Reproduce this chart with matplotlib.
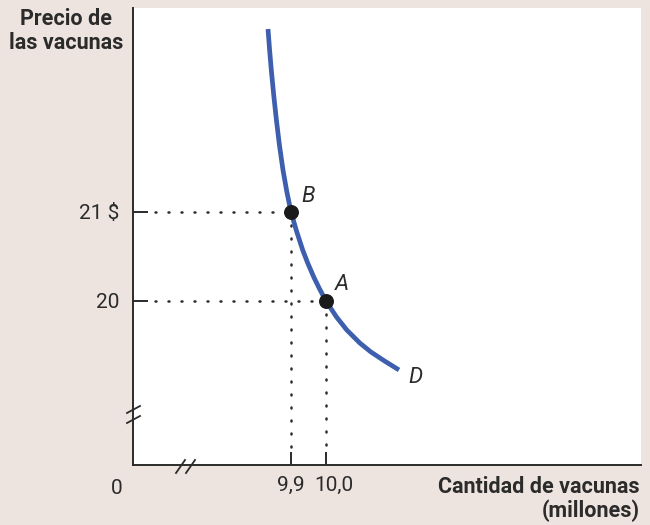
import matplotlib
matplotlib.use("Agg")
import matplotlib.pyplot as plt
import matplotlib.transforms as mtransforms

plt.rcParams['font.family'] = ['Roboto', 'DejaVu Sans']

# demand curve D (quantity in millions, price in $)
curve_q = [9.8343, 9.8389, 9.8437, 9.8506, 9.8583, 9.8669, 9.8771, 9.8877, 9.9000,
           9.9157, 9.9334, 9.9477, 9.9649, 9.9817, 10.0000, 10.0300, 10.0594, 10.0966,
           10.1283, 10.1671, 10.2086]
curve_p = [23.056, 22.820, 22.596, 22.315, 22.034, 21.753, 21.472, 21.236, 21.000,
           20.787, 20.573, 20.427, 20.270, 20.135, 20.000, 19.820, 19.674, 19.528,
           19.427, 19.326, 19.225]

point_names = ["B", "A"]
point_q = [9.9, 10.0]
point_p = [21, 20]

price_ticks = [20, 21]
price_labels = ["20", "21 $"]
qty_ticks = [9.9, 10.0]
qty_labels = ["9,9", "10,0"]

bg = '#ede4df'
blue = '#3d5fae'
dark = '#2b2b2b'

fig = plt.figure(figsize=(6.5, 5.25), dpi=100, facecolor=bg)
ax = fig.add_axes([133/650, 60/525, 508/650, 457/525])
ax.set_facecolor('white')
ax.set_xlim(9.4486, 10.9)
ax.set_ylim(18.157, 23.292)

for s in ['top', 'right']:
    ax.spines[s].set_visible(False)
for s in ['left', 'bottom']:
    ax.spines[s].set_color(dark)
    ax.spines[s].set_linewidth(1.4)

# dotted guides
for q, p in zip(point_q, point_p):
    ax.plot([9.5114, q], [p, p], color=dark, lw=1.8, linestyle=(0, (0.4, 4.8)),
            dash_capstyle='round', zorder=2)
    ax.plot([q, q], [p, 18.303], color=dark, lw=1.8, linestyle=(0, (0.4, 4.8)),
            dash_capstyle='round', zorder=2)

ax.plot(curve_q, curve_p, color=blue, lw=3.4, solid_capstyle='butt',
        solid_joinstyle='round', zorder=3)
ax.scatter(point_q, point_p, s=95, color='#1a1a1a', zorder=4)

ax.set_yticks(price_ticks)
ax.set_yticklabels(price_labels)
ax.set_xticks(qty_ticks)
ax.set_xticklabels(qty_labels)
ax.tick_params(axis='y', direction='in', length=10.8, width=1.4, color=dark,
               labelsize=15, pad=10, labelcolor=dark)
ax.tick_params(axis='x', direction='in', length=9.4, width=1.4, color=dark,
               labelsize=15, pad=8, labelcolor=dark)
# "10,0" sits a little right of its tick in the reference
xl = ax.get_xticklabels()
xl[1].set_transform(xl[1].get_transform() +
                    mtransforms.ScaledTranslation(8/100, 0, fig.dpi_scale_trans))

# point labels
ax.text(9.931, 21.17, "B", fontsize=16, style='italic', color=dark, ha='left', va='center')
ax.text(10.026, 20.18, "A", fontsize=16, style='italic', color=dark, ha='left', va='center')
ax.text(10.234, 19.135, "D", fontsize=16, style='italic', color=dark, ha='left', va='center')

# axis break marks
def frac(px, py):
    return (px - 133) / 508, (465 - py) / 457

for (x0, y0), (x1, y1) in [((127, 413), (140, 406)), ((127, 423), (140, 416)),
                           ((176, 473), (185, 460)), ((186, 473), (195, 460))]:
    a, b = frac(x0, y0)
    c, d = frac(x1, y1)
    ax.plot([a, c], [b, d], transform=ax.transAxes, color=dark, lw=1.3, clip_on=False)

fig.text(117/650, 1 - 488/525, "0", fontsize=15, color=dark, ha='center', va='center')
fig.text(66/650, 1 - 31/525, "Precio de\nlas vacunas", fontsize=15.5, fontweight='bold',
         color=dark, ha='center', va='center', linespacing=1.1)
fig.text(640/650, 1 - 499/525, "Cantidad de vacunas\n(millones)", fontsize=15.5,
         fontweight='bold', color=dark, ha='right', va='center', multialignment='right',
         linespacing=1.1)

fig.savefig("out.png", dpi=100, facecolor=bg)
